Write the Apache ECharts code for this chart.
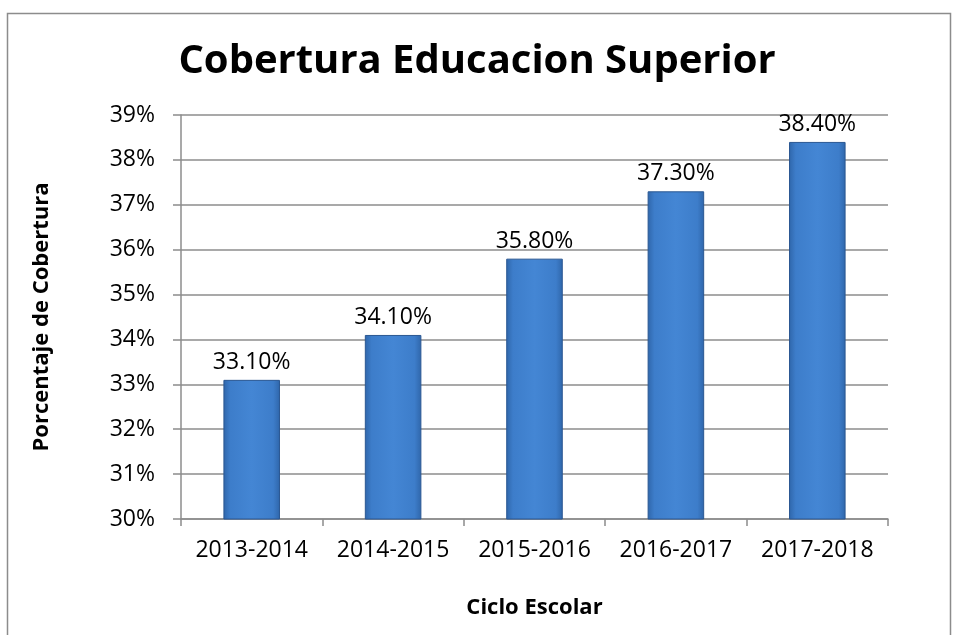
<!DOCTYPE html>
<html><head><meta charset="utf-8">
<script src="https://cdn.jsdelivr.net/npm/echarts@6/dist/echarts.min.js"></script>
<style>html,body{margin:0;padding:0;background:#fff}#c{width:954px;height:635px}</style>
</head><body><div id="c"></div>
<script>
const categories = ['2013-2014','2014-2015','2015-2016','2016-2017','2017-2018'];
const coverage = [33.1, 34.1, 35.8, 37.3, 38.4];
const yMin = 30, yMax = 39, yStep = 1;
const FONT = '"Open Sans", sans-serif';
const chart = echarts.init(document.getElementById('c'), null, {renderer:'canvas'});
chart.setOption({
  animation:false,
  backgroundColor:'#fff',
  graphic:[{type:'rect', shape:{x:7.5,y:13.5,width:943,height:640}, style:{fill:'none',stroke:'#8c8c8c',lineWidth:1.5}, silent:true}],
  title:{text:'Cobertura Educacion Superior', left:'center', top:37,
    textStyle:{fontFamily:FONT,fontSize:40,fontWeight:'bold',color:'#000'}},
  grid:{left:181,right:66,top:115,bottom:116},
  xAxis:{type:'category',data:categories,
    name:'Ciclo Escolar',nameLocation:'middle',nameGap:78,
    nameTextStyle:{fontFamily:FONT,fontSize:22,fontWeight:'bold',color:'#000'},
    axisLine:{lineStyle:{color:'#8c8c8c',width:1.5}},
    axisTick:{show:true,length:7,lineStyle:{color:'#8c8c8c',width:1.5}},
    axisLabel:{fontFamily:FONT,fontSize:23,color:'#000',margin:20,interval:0}},
  yAxis:{type:'value',min:yMin,max:yMax,interval:yStep,
    name:'Porcentaje de Cobertura',nameLocation:'middle',nameGap:128,nameRotate:90,
    nameTextStyle:{fontFamily:FONT,fontSize:22,fontWeight:'bold',color:'#000'},
    axisLine:{show:true,lineStyle:{color:'#8c8c8c',width:1.5}},
    axisTick:{show:true,length:8,lineStyle:{color:'#8c8c8c',width:1.5}},
    splitLine:{lineStyle:{color:'#8c8c8c',width:1.5}},
    axisLabel:{fontFamily:FONT,fontSize:23,color:'#000',margin:26,formatter:v=>v+'%'}},
  series:[{type:'bar',data:coverage,barWidth:'40%',
    itemStyle:{borderColor:'#2a5792',borderWidth:1,
      color:new echarts.graphic.LinearGradient(0,0,1,0,[
        {offset:0,color:'#2f66aa'},{offset:0.12,color:'#3d7dca'},{offset:0.5,color:'#4486d4'},
        {offset:0.88,color:'#3d7dca'},{offset:1,color:'#2f66aa'}])},
    label:{show:true,position:'top',distance:6,fontFamily:FONT,fontSize:23,color:'#000',
      formatter:p=>p.value.toFixed(2)+'%'}}]
});
</script></body></html>
